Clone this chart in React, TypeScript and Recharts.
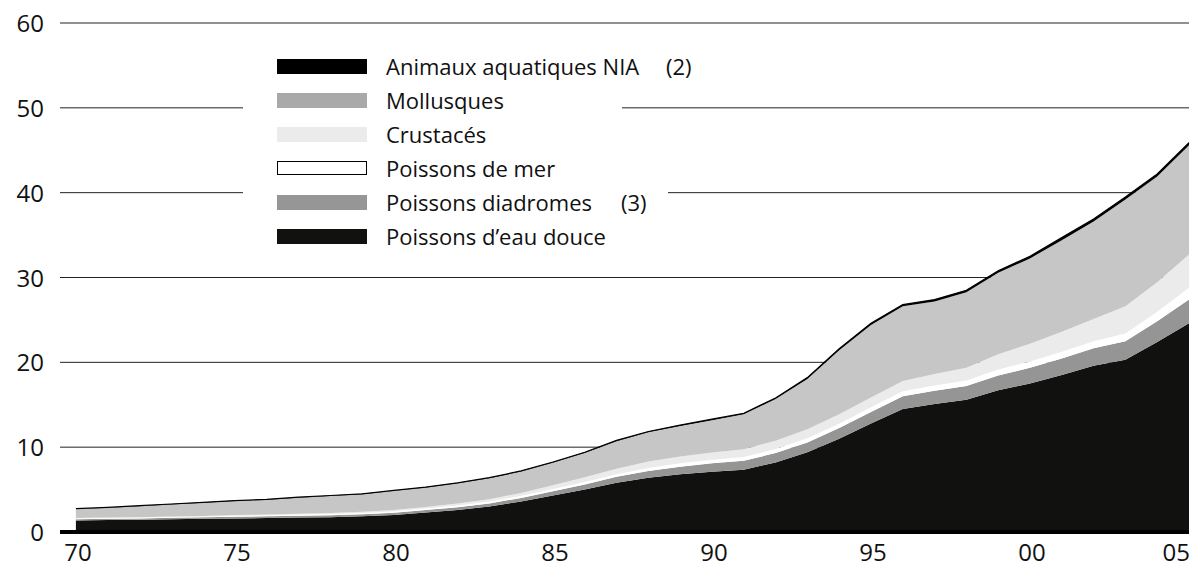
import React from "react";
import { AreaChart, Area, XAxis, YAxis, CartesianGrid, Legend, ReferenceLine } from "recharts";

const years = [1970,1971,1972,1973,1974,1975,1976,1977,1978,1979,1980,1981,1982,1983,1984,1985,1986,1987,1988,1989,1990,1991,1992,1993,1994,1995,1996,1997,1998,1999,2000,2001,2002,2003,2004,2005];

const eauDouce = [1.35,1.40,1.45,1.50,1.55,1.60,1.65,1.70,1.75,1.85,2.00,2.30,2.60,3.00,3.60,4.30,5.00,5.80,6.40,6.80,7.10,7.35,8.20,9.40,11.00,12.80,14.50,15.10,15.60,16.70,17.50,18.50,19.60,20.30,22.40,24.60];
const diadromes = [0.15,0.15,0.15,0.17,0.18,0.20,0.20,0.22,0.23,0.25,0.28,0.30,0.33,0.37,0.42,0.50,0.60,0.70,0.80,0.90,1.00,1.05,1.10,1.15,1.25,1.35,1.50,1.55,1.60,1.75,1.85,1.95,2.05,2.20,2.45,2.80];
const mer = [0.10,0.10,0.10,0.10,0.10,0.12,0.12,0.13,0.14,0.15,0.17,0.18,0.20,0.22,0.24,0.27,0.30,0.32,0.35,0.40,0.42,0.45,0.47,0.50,0.52,0.55,0.60,0.62,0.65,0.70,0.75,0.80,0.85,0.90,1.10,1.40];
const crustaces = [0.05,0.05,0.05,0.06,0.07,0.08,0.09,0.10,0.11,0.13,0.15,0.18,0.22,0.27,0.35,0.45,0.55,0.65,0.75,0.80,0.85,0.90,1.00,1.05,1.10,1.15,1.20,1.35,1.50,1.80,2.10,2.35,2.60,3.20,3.50,3.90];
const mollusques = [1.05,1.15,1.30,1.42,1.55,1.65,1.74,1.90,2.02,2.07,2.25,2.28,2.39,2.47,2.51,2.65,2.85,3.23,3.45,3.60,3.81,4.13,4.90,5.95,7.55,8.55,8.80,8.56,8.90,9.60,10.05,10.80,11.50,12.60,12.45,12.90];
const nia = [0.05,0.05,0.05,0.05,0.05,0.05,0.05,0.05,0.05,0.05,0.05,0.06,0.06,0.07,0.08,0.08,0.10,0.10,0.10,0.10,0.12,0.12,0.13,0.15,0.18,0.20,0.20,0.22,0.25,0.25,0.25,0.30,0.30,0.30,0.30,0.30];

const xTicks = [1970,1975,1980,1985,1990,1995,2000,2005];
const xTickLabels = ["70","75","80","85","90","95","00","05"];
const yTicks = [0,10,20,30,40,50,60];

const legendItems = [
  { label: "Animaux aquatiques NIA", note: "(2)", noteX: 423, color: "#000000", border: false, bgWidth: 480 },
  { label: "Mollusques", note: "", noteX: 0, color: "#a9a9a9", border: false, bgWidth: 379 },
  { label: "Crustacés", note: "", noteX: 0, color: "#ebebeb", border: false, bgWidth: 379 },
  { label: "Poissons de mer", note: "", noteX: 0, color: "#ffffff", border: true, bgWidth: 379 },
  { label: "Poissons diadromes", note: "(3)", noteX: 378, color: "#969696", border: false, bgWidth: 425 },
  { label: "Poissons d\u2019eau douce", note: "", noteX: 0, color: "#111210", border: false, bgWidth: 425 },
];

const data = years.map((y, i) => ({
  year: y,
  eauDouce: eauDouce[i],
  diadromes: diadromes[i],
  mer: mer[i],
  crustaces: crustaces[i],
  mollusques: mollusques[i],
  nia: nia[i],
}));

const FONT = "'Open Sans', 'Noto Sans', sans-serif";

const XTick = (props: any) => {
  const { x, y, payload } = props;
  const idx = xTicks.indexOf(payload.value);
  const label = idx >= 0 ? xTickLabels[idx] : String(payload.value);
  const last = payload.value === 2005;
  return (
    <text x={last ? x + 1 : x + 2} y={y + 21} textAnchor={last ? "end" : "middle"} fontFamily={FONT} fontSize={24} fill="#111">
      {label}
    </text>
  );
};

const YTick = (props: any) => {
  const { x, y, payload } = props;
  return (
    <text x={x - 8} y={y + 9} textAnchor="end" fontFamily={FONT} fontSize={24} fill="#111">
      {payload.value}
    </text>
  );
};

const LegendContent = () => (
  <div style={{ position: "relative", width: 480, height: 204, fontFamily: FONT }}>
    {legendItems.map((it, i) => (
      <div key={it.label} style={{ position: "absolute", left: 0, top: i * 34, width: it.bgWidth, height: 34, background: "#fff" }}>
        <div
          style={{
            position: "absolute",
            left: 34,
            top: 10,
            width: it.border ? 88 : 90,
            height: it.border ? 12 : 15,
            background: it.color,
            border: it.border ? "1.5px solid #000" : "none",
          }}
        />
        <div style={{ position: "absolute", left: 143, top: 0, height: 34, lineHeight: "34px", fontSize: 22, color: "#111", whiteSpace: "nowrap" }}>
          {it.label}
        </div>
        {it.note ? (
          <div style={{ position: "absolute", left: it.noteX, top: 0, height: 34, lineHeight: "34px", fontSize: 22, color: "#111", whiteSpace: "nowrap" }}>
            {it.note}
          </div>
        ) : null}
      </div>
    ))}
  </div>
);

export default function App() {
  return (
    <div style={{ position: "absolute", left: 0, top: 0, width: 1192, height: 574, background: "#fff" }}>
      <AreaChart width={1192} height={574} data={data} margin={{ top: 23, right: 3, bottom: 0, left: 0 }}>
        <CartesianGrid horizontal vertical={false} stroke="#222" strokeWidth={1} />
        <XAxis
          dataKey="year"
          type="number"
          domain={[1969.5, 2005]}
          ticks={xTicks}
          axisLine={false}
          tickLine={false}
          height={42}
          tick={<XTick />}
          interval={0}
        />
        <YAxis
          type="number"
          domain={[0, 60]}
          ticks={yTicks}
          axisLine={false}
          tickLine={false}
          width={60}
          tick={<YTick />}
          interval={0}
        />
        <ReferenceLine y={0} stroke="#000" strokeWidth={4} />
        <Area type="linear" dataKey="eauDouce" stackId="1" stroke="none" fill="#111210" fillOpacity={1} isAnimationActive={false} />
        <Area type="linear" dataKey="diadromes" stackId="1" stroke="none" fill="#959595" fillOpacity={1} isAnimationActive={false} />
        <Area type="linear" dataKey="mer" stackId="1" stroke="none" fill="#ffffff" fillOpacity={1} isAnimationActive={false} />
        <Area type="linear" dataKey="crustaces" stackId="1" stroke="none" fill="#ebebeb" fillOpacity={1} isAnimationActive={false} />
        <Area type="linear" dataKey="mollusques" stackId="1" stroke="none" fill="#c6c6c6" fillOpacity={1} isAnimationActive={false} />
        <Area type="linear" dataKey="nia" stackId="1" stroke="#000" strokeWidth={1.2} fill="#000" fillOpacity={1} isAnimationActive={false} />
        <Legend
          layout="horizontal"
          verticalAlign="middle"
          align="center"
          content={<LegendContent />}
          wrapperStyle={{ left: 243, top: 49, width: 480, height: 204 }}
        />
      </AreaChart>
    </div>
  );
}
